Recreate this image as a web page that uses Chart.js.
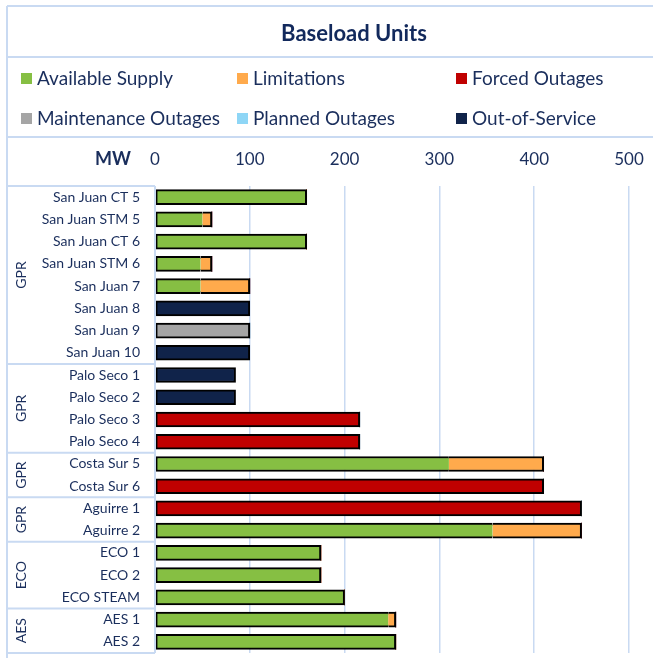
<!DOCTYPE html>
<html>
<head>
<meta charset="utf-8">
<script src="https://cdn.jsdelivr.net/npm/chart.js@4/dist/chart.umd.min.js"></script>
<style>
  html, body { margin: 0; padding: 0; background: #fff; }
  #wrap { position: relative; width: 653px; height: 658px; overflow: hidden; font-family: Lato, sans-serif; }
  #chart { position: absolute; left: 0; top: 0; }
  #title { position: absolute; left: 354px; top: 20px; transform: translateX(-50%); font-weight: bold; font-size: 22px; line-height: 26px; color: #12295C; white-space: nowrap; }
  .lg { position: absolute; font-size: 19px; line-height: 22px; color: #1A2E5C; white-space: nowrap; }
  .lg span.box { position: absolute; left: 0; top: 6px; width: 11px; height: 11px; }
  .lg span.txt { position: absolute; left: 16px; top: 0; }
</style>
</head>
<body>
<div id="wrap">
  <canvas id="chart" width="653" height="658"></canvas>
  <div id="title">Baseload Units</div>
  <div id="legend"></div>
</div>
<script>
// units, top to bottom
const units = ['San Juan CT 5', 'San Juan STM 5', 'San Juan CT 6', 'San Juan STM 6', 'San Juan 7',
  'San Juan 8', 'San Juan 9', 'San Juan 10', 'Palo Seco 1', 'Palo Seco 2', 'Palo Seco 3', 'Palo Seco 4',
  'Costa Sur 5', 'Costa Sur 6', 'Aguirre 1', 'Aguirre 2', 'ECO 1', 'ECO 2', 'ECO STEAM', 'AES 1', 'AES 2'];

// owner groups and how many units each has
const groupNames = ['GPR', 'GPR', 'GPR', 'GPR', 'ECO', 'AES'];
const groupSizes = [8, 4, 2, 2, 3, 2];

// MW by status
const available   = [160, 50, 160, 48, 48, 0, 0, 0, 0, 0, 0, 0, 310, 0, 0, 356, 175, 175, 200, 246, 254];
const limitations = [0, 10, 0, 12, 52, 0, 0, 0, 0, 0, 0, 0, 100, 0, 0, 94, 0, 0, 0, 8, 0];
const forced      = [0, 0, 0, 0, 0, 0, 0, 0, 0, 0, 216, 216, 0, 410, 450, 0, 0, 0, 0, 0, 0];
const maintenance = [0, 0, 0, 0, 0, 0, 100, 0, 0, 0, 0, 0, 0, 0, 0, 0, 0, 0, 0, 0, 0];
const planned     = [0, 0, 0, 0, 0, 0, 0, 0, 0, 0, 0, 0, 0, 0, 0, 0, 0, 0, 0, 0, 0];
const outOfService = [0, 0, 0, 0, 0, 100, 0, 100, 85, 85, 0, 0, 0, 0, 0, 0, 0, 0, 0, 0, 0];

const seriesNames = ['Available Supply', 'Limitations', 'Forced Outages', 'Maintenance Outages', 'Planned Outages', 'Out-of-Service'];
const seriesColors = ['#86BF43', '#FFAA4C', '#C00000', '#A5A5A5', '#8ED6F6', '#10234A'];
const allSeries = [available, limitations, forced, maintenance, planned, outOfService];

const xTicks = [0, 100, 200, 300, 400, 500];

const navy = '#1A2E5C';
const frameBlue = '#C9DAF2';

// html legend, 3 columns
const legendCols = [21, 237, 456];
const legendRows = [67, 107];
const legend = document.getElementById('legend');
seriesNames.forEach((name, i) => {
  const d = document.createElement('div');
  d.className = 'lg';
  d.style.left = legendCols[i % 3] + 'px';
  d.style.top = legendRows[Math.floor(i / 3)] + 'px';
  d.innerHTML = `<span class="box" style="background:${seriesColors[i]}"></span><span class="txt">${name}</span>`;
  legend.appendChild(d);
});

// border only on the outside of each stacked bar
const outline = (ctx) => {
  const i = ctx.dataIndex;
  const ds = ctx.datasetIndex;
  if (!allSeries[ds][i]) return 0;
  let first = -1, last = -1;
  for (let k = 0; k < allSeries.length; k++) {
    if (allSeries[k][i]) { if (first < 0) first = k; last = k; }
  }
  return { top: 2, bottom: 2, left: ds === first ? 2 : 0, right: ds === last ? 2 : 0 };
};

// no extra padding from the scales, the layout padding does it
const noPad = (s) => { s.paddingLeft = 0; s.paddingRight = 0; s.paddingTop = 0; s.paddingBottom = 0; };

// frame lines, group table and MW label
const tablePlugin = {
  id: 'table',
  afterDraw(chart) {
    const c = chart.ctx;
    const y = chart.scales.y;
    const area = chart.chartArea;
    const half = (y.getPixelForValue(1) - y.getPixelForValue(0)) / 2;
    const left = 7;
    c.save();
    c.strokeStyle = frameBlue;
    c.lineWidth = 2;
    const line = (x1, y1, x2, y2) => { c.beginPath(); c.moveTo(x1, y1); c.lineTo(x2, y2); c.stroke(); };
    line(left, 6, 653, 6);
    line(left, 6, left, 658);
    line(left, 57, 653, 57);
    line(left, 137, 653, 137);
    line(area.left, area.top, area.left, area.bottom);

    let start = 0;
    c.fillStyle = navy;
    c.font = '14px Lato';
    c.textAlign = 'center';
    c.textBaseline = 'middle';
    line(left, y.getPixelForValue(0) - half, area.left, y.getPixelForValue(0) - half);
    groupSizes.forEach((n, g) => {
      const top = y.getPixelForValue(start) - half;
      const bot = y.getPixelForValue(start + n - 1) + half;
      line(left, bot, area.left, bot);
      c.save();
      c.translate(21, (top + bot) / 2);
      c.rotate(-Math.PI / 2);
      c.fillText(groupNames[g], 0, 0);
      c.restore();
      start += n;
    });

    c.font = 'bold 18px Lato';
    c.textAlign = 'right';
    c.fillText('MW', 131, 159);
    c.restore();
  }
};

new Chart(document.getElementById('chart'), {
  type: 'bar',
  data: {
    labels: units,
    datasets: seriesNames.map((name, i) => ({
      label: name,
      data: allSeries[i],
      backgroundColor: seriesColors[i],
      borderColor: '#000',
      borderWidth: outline,
      borderSkipped: false,
      barThickness: 15
    }))
  },
  options: {
    indexAxis: 'y',
    responsive: false,
    animation: false,
    layout: { padding: { left: 7, top: 140, right: 24, bottom: 5 } },
    plugins: { legend: { display: false }, tooltip: { enabled: false } },
    scales: {
      x: {
        position: 'top',
        stacked: true,
        min: 0,
        max: 500,
        afterBuildTicks: (s) => { s.ticks = xTicks.map(v => ({ value: v })); },
        afterFit: (s) => { s.height = 46; noPad(s); },
        grid: { color: frameBlue, lineWidth: 1.5, drawTicks: false },
        border: { display: false },
        ticks: { color: navy, font: { family: 'Lato', size: 17 }, padding: 16 }
      },
      y: {
        stacked: true,
        afterFit: (s) => { s.width = 148; noPad(s); },
        grid: { display: false, drawTicks: false },
        border: { display: false },
        ticks: { color: navy, font: { family: 'Lato', size: 14 }, padding: 15, autoSkip: false }
      }
    }
  },
  plugins: [tablePlugin]
});
</script>
</body>
</html>
